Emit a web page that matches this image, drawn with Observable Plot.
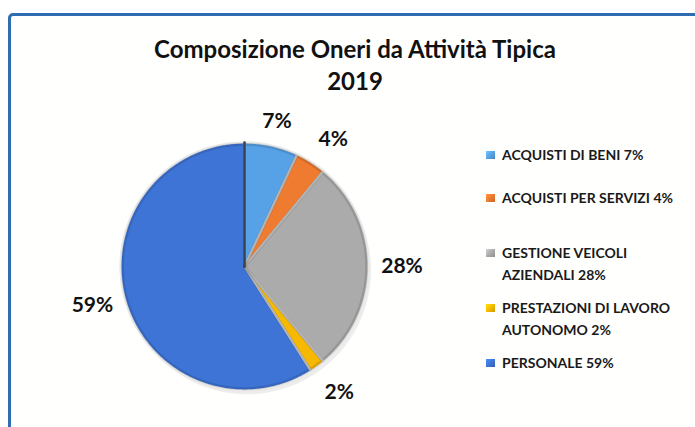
<!DOCTYPE html>
<html><head><meta charset="utf-8">
<script src="https://cdn.jsdelivr.net/npm/d3@7"></script>
<script src="https://cdn.jsdelivr.net/npm/@observablehq/plot@0.6"></script>
<style>
body{margin:0;background:#fff;}
#wrap{position:relative;width:695px;height:427px;overflow:hidden;font-family:Lato,"Open Sans",sans-serif;background:#fff;}
#frame{position:absolute;left:8px;top:13px;width:760px;height:480px;border:3px solid #2f6db3;border-radius:5px;box-sizing:border-box;background:#fffffd;}
#chart{position:absolute;left:0;top:0;}
#title{position:absolute;left:0;width:710px;top:33px;text-align:center;font-weight:700;font-size:24px;line-height:32px;color:#111;}
#legend{position:absolute;left:486px;top:0;font-weight:700;font-size:14px;line-height:22px;color:#1a1a1a;}
.item{position:absolute;left:0;white-space:nowrap;}
.sw{position:absolute;left:0;top:7px;width:9px;height:8px;}
.txt{position:absolute;left:16px;top:0;}
</style></head>
<body><div id="wrap"><div id="frame"></div><div id="chart"></div>
<div id="title">Composizione Oneri da Attività Tipica<br>2019</div>
<div id="legend"></div></div>
<script>
const categories = ["ACQUISTI DI BENI", "ACQUISTI PER SERVIZI", "GESTIONE VEICOLI AZIENDALI", "PRESTAZIONI DI LAVORO AUTONOMO", "PERSONALE"];
const values = [7, 4, 28, 2, 59];
const legendLines = [["ACQUISTI DI BENI 7%"], ["ACQUISTI PER SERVIZI 4%"], ["GESTIONE VEICOLI", "AZIENDALI 28%"], ["PRESTAZIONI DI LAVORO", "AUTONOMO 2%"], ["PERSONALE 59%"]];

// styles / placement
const colors = ["#57a2e6", "#ee7b30", "#ababab", "#f6b900", "#3d74d6"];
const R = 124, CX = 244, CY = 266, W = 695, H = 427;
const labelFont = 21;
const labelRadius = [1.2, 1.25, 1.27, 1.27, 1.265];
const labelAngleNudge = [0, 2.5, 0, -1, 2];
const legendTops = [144, 187, 242, 297, 352];

const pie = d3.pie().sort(null).value(d => d)(values);
const slices = pie.map((p, i) => ({name: categories[i], value: values[i], a0: p.startAngle, a1: p.endAngle, i}));

const pts = [];
for (const s of slices) {
  pts.push({i: s.i, x: 0, y: 0});
  const n = Math.max(2, Math.ceil((s.a1 - s.a0) / 0.01));
  for (let k = 0; k <= n; k++) {
    const a = s.a0 + (s.a1 - s.a0) * k / n;
    pts.push({i: s.i, x: Math.sin(a), y: Math.cos(a)});
  }
  pts.push({i: s.i, x: 0, y: 0});
}
const labels = slices.map((s, i) => {
  const a = (s.a0 + s.a1) / 2 + labelAngleNudge[i] * Math.PI / 180;
  const r = labelRadius[i];
  return {t: s.value + "%", x: r * Math.sin(a), y: r * Math.cos(a)};
});
const edge = [{x: 0, y: 0}, {x: Math.sin(slices[0].a0), y: Math.cos(slices[0].a0)}];

const plot = Plot.plot({
  width: W, height: H, margin: 0,
  x: {domain: [-CX / R, (W - CX) / R], range: [0, W], axis: null},
  y: {domain: [-(H - CY) / R, CY / R], range: [H, 0], axis: null},
  style: {background: "transparent", overflow: "visible"},
  marks: [
    Plot.line(pts, {x: d => d.x + 0.02, y: d => d.y - 0.03, z: "i", fill: "#000", fillOpacity: 0.07, stroke: "none"}),
    Plot.line(pts, {x: "x", y: "y", z: "i", fill: d => colors[d.i], stroke: "#e8e8e8", strokeWidth: 2.2, strokeLinejoin: "round"}),
    Plot.line(pts, {x: d => d.x * 0.985, y: d => d.y * 0.985, z: "i", fill: "none", stroke: "#000", strokeOpacity: 0.12, strokeWidth: 3}),
    Plot.line(edge, {x: "x", y: "y", stroke: "#3a3f48", strokeWidth: 2.5}),
    Plot.text(labels, {x: "x", y: "y", text: "t", fontSize: labelFont, fontWeight: 700, fill: "#111", fontFamily: "Lato, 'Open Sans', sans-serif"})
  ]
});
document.getElementById("chart").appendChild(plot);

const leg = document.getElementById("legend");
legendLines.forEach((lines, i) => {
  const it = document.createElement("div");
  it.className = "item";
  it.style.top = legendTops[i] + "px";
  const c = d3.color(colors[i]);
  it.innerHTML = `<div class="sw" style="background:linear-gradient(135deg, ${c.brighter(0.6)} 0%, ${colors[i]} 50%, ${c.darker(0.5)} 100%);"></div><div class="txt">${lines.join("<br>")}</div>`;
  leg.appendChild(it);
});
</script></body></html>
